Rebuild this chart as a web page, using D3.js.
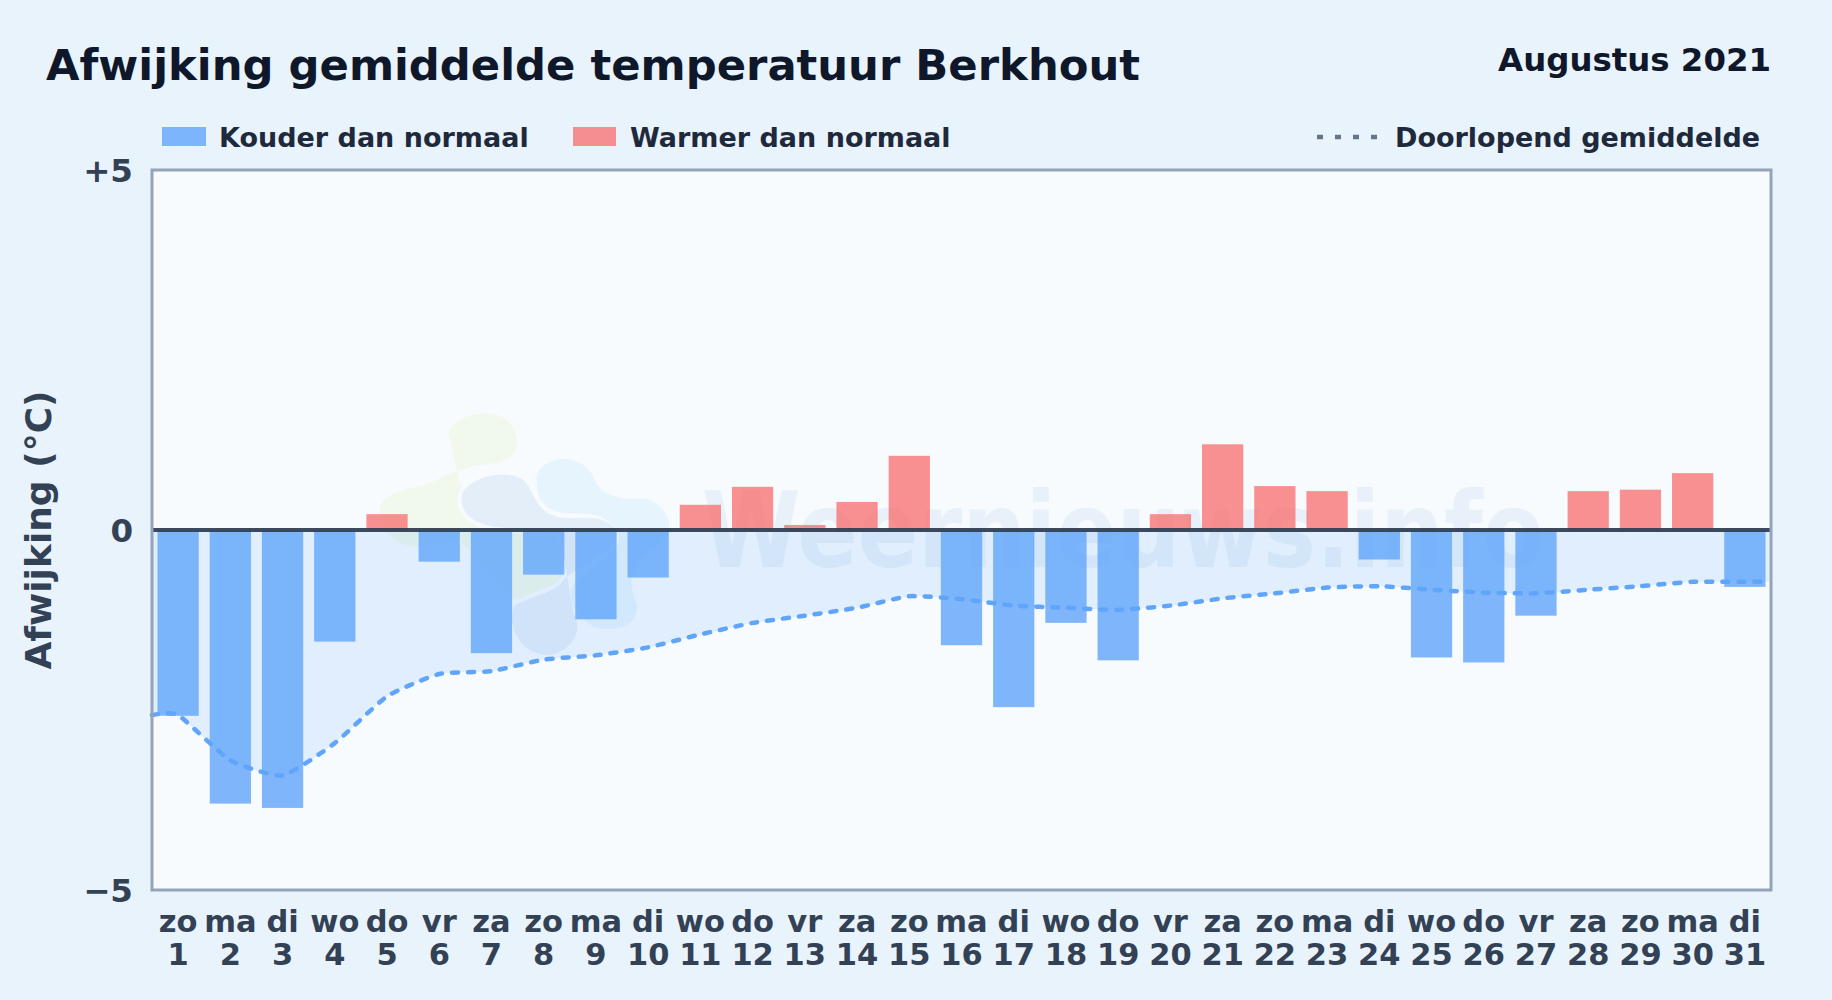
<!DOCTYPE html>
<html>
<head>
<meta charset="utf-8">
<script src="https://cdn.jsdelivr.net/npm/d3@7"></script>
<style>
  html, body { margin: 0; padding: 0; background: #e8f3fc; }
  svg { display: block; font-family: "DejaVu Sans", sans-serif; font-weight: bold; }
</style>
</head>
<body>
<svg width="1832" height="1000"></svg>
<script>
const weekdays = ["zo","ma","di","wo","do","vr","za","zo","ma","di","wo","do","vr","za","zo","ma","di","wo","do","vr","za","zo","ma","di","wo","do","vr","za","zo","ma","di"];
const days = d3.range(1, 32);
const deviation = [-2.58,-3.80,-3.86,-1.55,0.22,-0.44,-1.71,-0.62,-1.24,-0.66,0.35,0.60,0.07,0.39,1.03,-1.60,-2.46,-1.29,-1.81,0.22,1.19,0.61,0.54,-0.41,-1.77,-1.84,-1.19,0.54,0.56,0.79,-0.79];
const runningMean = [-2.57,-3.20,-3.41,-2.96,-2.31,-2.00,-1.96,-1.80,-1.74,-1.63,-1.45,-1.29,-1.19,-1.08,-0.92,-0.96,-1.05,-1.08,-1.11,-1.05,-0.95,-0.88,-0.80,-0.78,-0.83,-0.87,-0.88,-0.83,-0.78,-0.72,-0.72];
const yTicks = [5, 0, -5];
const yTickLabels = ["+5", "0", "−5"];

const svg = d3.select("svg");
const plotLeft = 152, plotRight = 1771, plotTop = 170, plotBottom = 890;

const x = d3.scaleBand().domain(days).range([plotLeft, plotRight]).paddingInner(0.21).paddingOuter(0.105);
const y = d3.scaleLinear().domain([-5, 5]).range([plotBottom, plotTop]);
const center = d => x(d) + x.bandwidth() / 2;

// page and plot background
svg.append("rect").attr("width", 1832).attr("height", 1000).attr("fill", "#e8f3fc");
svg.append("rect").attr("x", plotLeft).attr("y", plotTop).attr("width", plotRight - plotLeft).attr("height", plotBottom - plotTop).attr("fill", "#f7fbfe");

// watermark logo and text
const mark = svg.append("g").attr("transform", "translate(360,400) scale(0.3333)");
mark.append("path").attr("fill", "#f1f8ec")
  .attr("d", "M265 100 C275 50 400 10 450 70 C490 120 475 180 400 190 C330 200 280 210 230 240 C170 270 60 270 60 330 C60 400 120 440 170 440 L300 420 L460 600 C500 590 570 570 610 530 L640 400 L300 250 Z");
mark.append("path").attr("fill", "#e4eef8").attr("stroke", "#f7fbfe").attr("stroke-width", 24).attr("paint-order", "stroke")
  .attr("d", "M305 290 C310 240 430 200 490 240 C530 280 520 330 590 350 C650 365 720 330 770 390 C790 440 650 500 610 540 C590 580 500 590 460 620 C440 700 500 770 570 765 C640 750 670 690 640 640 L600 400 L400 380 C340 370 300 340 305 290 Z");
mark.append("path").attr("fill", "#e6f4fe")
  .attr("d", "M530 230 C540 170 660 150 700 230 C720 290 780 300 850 295 C920 310 950 380 910 420 C860 480 780 500 830 610 C840 680 760 700 700 680 C640 640 610 590 650 540 C740 480 800 430 770 390 C720 320 650 350 590 335 C530 310 530 270 530 230 Z");
svg.append("text").attr("x", 702).attr("y", 567).attr("font-size", 106)
  .attr("textLength", 842).attr("lengthAdjust", "spacingAndGlyphs")
  .attr("fill", "#dbe8f6").attr("opacity", 0.5).text("Weernieuws.info");

// running mean area, behind the bars
const curve = d3.curveCardinal.tension(0.5);
const area = d3.area().x(d => d[0]).y0(y(0)).y1(d => y(d[1])).curve(curve);
const line = d3.line().x(d => d[0]).y(d => y(d[1])).curve(curve);
const meanPoints = [[plotLeft, runningMean[0]]]
  .concat(days.map((d, i) => [center(d), runningMean[i]]))
  .concat([[plotRight - 2, runningMean[30]]]);

svg.append("path").datum(meanPoints).attr("d", area).attr("fill", "#60a5fa").attr("opacity", 0.15);

// bars
svg.append("g").selectAll("rect").data(deviation).enter().append("rect")
  .attr("x", (d, i) => x(days[i]))
  .attr("width", x.bandwidth())
  .attr("y", d => d >= 0 ? y(d) : y(0))
  .attr("height", d => Math.abs(y(d) - y(0)))
  .attr("fill", d => d >= 0 ? "#f87171" : "#60a5fa")
  .attr("opacity", d => d >= 0 ? 0.78 : 0.8);

// running mean line
svg.append("path").datum(meanPoints).attr("d", line)
  .attr("fill", "none").attr("stroke", "#60a5fa").attr("stroke-width", 4.5)
  .attr("stroke-linecap", "round").attr("stroke-dasharray", "6 10");

// zero line and frame
svg.append("line").attr("x1", plotLeft).attr("x2", plotRight).attr("y1", y(0)).attr("y2", y(0))
  .attr("stroke", "#334155").attr("stroke-width", 4).attr("opacity", 0.95);
svg.append("rect").attr("x", plotLeft).attr("y", plotTop).attr("width", plotRight - plotLeft).attr("height", plotBottom - plotTop)
  .attr("fill", "none").attr("stroke", "#94a3b8").attr("stroke-width", 3);

// y axis
const yAxis = svg.append("g").attr("transform", `translate(${plotLeft},1.5)`)
  .call(d3.axisLeft(y).tickValues(yTicks).tickSize(0).tickPadding(19).tickFormat((d, i) => yTickLabels[i]));
yAxis.select(".domain").remove();
yAxis.selectAll("text").attr("font-size", 32.5).attr("font-family", "DejaVu Sans").attr("font-weight", "bold").attr("fill", "#334155");

svg.append("text").attr("transform", `translate(51,${y(0)}) rotate(-90)`).attr("text-anchor", "middle")
  .attr("font-size", 36).attr("fill", "#334155").text("Afwijking (°C)");

// x labels
const xLabels = svg.append("g").selectAll("g").data(days).enter().append("g")
  .attr("transform", d => `translate(${center(d)},0)`)
  .attr("text-anchor", "middle").attr("fill", "#334155").attr("font-size", 30.5);
xLabels.append("text").attr("y", 932).text((d, i) => weekdays[i]);
xLabels.append("text").attr("y", 965).text(d => d);

// title
svg.append("text").attr("x", 46).attr("y", 80).attr("font-size", 43.3).attr("fill", "#0f172a")
  .text("Afwijking gemiddelde temperatuur Berkhout");
svg.append("text").attr("x", 1771).attr("y", 71).attr("text-anchor", "end").attr("font-size", 32.4).attr("fill", "#0f172a")
  .text("Augustus 2021");

// legend
svg.append("rect").attr("x", 162).attr("y", 127).attr("width", 44).attr("height", 19).attr("fill", "#60a5fa").attr("opacity", 0.8);
svg.append("text").attr("x", 219).attr("y", 147).attr("font-size", 27).attr("fill", "#1e293b").text("Kouder dan normaal");
svg.append("rect").attr("x", 573).attr("y", 127).attr("width", 43).attr("height", 19).attr("fill", "#f87171").attr("opacity", 0.78);
svg.append("text").attr("x", 630).attr("y", 147).attr("font-size", 27).attr("fill", "#1e293b").text("Warmer dan normaal");
svg.append("line").attr("x1", 1317).attr("x2", 1378).attr("y1", 137).attr("y2", 137)
  .attr("stroke", "#64748b").attr("stroke-width", 4.5).attr("stroke-dasharray", "6 12");
svg.append("text").attr("x", 1395).attr("y", 147).attr("font-size", 27).attr("fill", "#1e293b").text("Doorlopend gemiddelde");
</script>
</body>
</html>
